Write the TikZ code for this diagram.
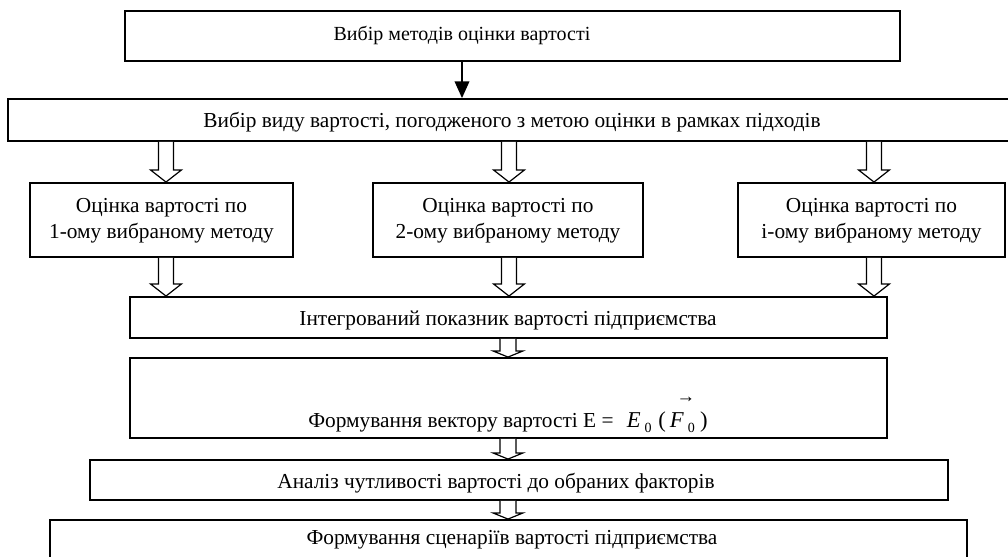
\documentclass[tikz,border=0pt]{standalone}
\usepackage{fontspec}
\setmainfont{Liberation Serif}
\usetikzlibrary{arrows.meta,calc,fit}
\tikzset{
  box/.style={draw, line width=1.4pt, rectangle, inner sep=0pt},
  lbl/.style={font=\fontsize{16}{19.5}\selectfont, align=center, inner sep=0pt, anchor=base},
  hollow/.style n args={3}{draw, line width=0.9pt, fill=white, to path={
    let \p1=(\tikztostart), \p2=(\tikztotarget) in
    (\x1-#1,\y1) -- (\x1-#1,\y2+#3) -- (\x1-#2,\y2+#3) -- (\x1,\y2)
    -- (\x1+#2,\y2+#3) -- (\x1+#1,\y2+#3) -- (\x1+#1,\y1)}},
  big/.style={hollow={5.6pt}{11.5pt}{9pt}},
  small/.style={hollow={6pt}{11pt}{4.5pt}},
  solidarrow/.style={line width=1pt, -{Triangle[length=12.5pt,width=11pt]}},
}
\newcommand{\subz}{\raisebox{-4pt}{\upshape\fontsize{10.5}{10.5}\selectfont 0}}
\begin{document}
\begin{tikzpicture}[x=0.75pt,y=-0.75pt]
\useasboundingbox (0,0) rectangle (1008,557);
% boxes
\node[box, fit={(125,11)(900,61)}] (b1) {};
\node[lbl, font=\fontsize{15}{18}\selectfont] (t1) at (462,40) {Вибір методів оцінки вартості};
\node[box, fit={(8,99)(1020,141)}] (b2) {};
\node[lbl] (t2) at (512,127) {Вибір виду вартості, погодженого з метою оцінки в рамках підходів};
\node[box, fit={(30,183)(293,257)}] (ma) {};
\node[lbl] (tma) at (161.5,238) {Оцінка вартості по\\1-ому вибраному методу};
\node[box, fit={(373,183)(643,257)}] (mb) {};
\node[lbl] (tmb) at (508,238) {Оцінка вартості по\\2-ому вибраному методу};
\node[box, fit={(738,183)(1005,257)}] (mc) {};
\node[lbl] (tmc) at (871.5,238) {Оцінка вартості по\\і-ому вибраному методу};
\node[box, fit={(130,297)(887,338)}] (ib) {};
\node[lbl] (ti) at (508,325) {Інтегрований показник вартості підприємства};
\node[box, fit={(130,358)(887,438)}] (fb) {};
\node[lbl] (tf) at (508,427) {Формування вектору вартості Е =\kern10pt{\fontsize{17}{17}\selectfont\itshape E\kern3pt\subz\kern5pt\upshape(\kern3pt\itshape\rlap{\kern5pt\raisebox{18.5pt}{\upshape\fontsize{14}{14}\selectfont →}}F\kern3pt\subz\kern4pt\upshape)}};
\node[box, fit={(90,460)(948,500)}] (ab) {};
\node[lbl] (ta) at (496,488) {Аналіз чутливості вартості до обраних факторів};
\node[box, fit={(50,520)(967,570)}] (sb) {};
\node[lbl] (ts) at (512,544) {Формування сценаріїв вартості підприємства};
% arrow x positions
\coordinate (xa) at (166,0);
\coordinate (xb) at (509,0);
\coordinate (xc) at (874,0);
\coordinate (xm) at (508,0);
% connectors
\draw[solidarrow] (b1.south -| t1) -- (b2.north -| t1);
\draw[big] (b2.south -| xa) to (ma.north -| xa);
\draw[big] (b2.south -| xb) to (mb.north -| xb);
\draw[big] (b2.south -| xc) to (mc.north -| xc);
\draw[big] (ma.south -| xa) to (ib.north -| xa);
\draw[big] (mb.south -| xb) to (ib.north -| xb);
\draw[big] (mc.south -| xc) to (ib.north -| xc);
\draw[small] (ib.south -| xm) to (fb.north -| xm);
\draw[small] (fb.south -| xm) to (ab.north -| xm);
\draw[small] (ab.south -| xm) to (sb.north -| xm);
\end{tikzpicture}
\end{document}
